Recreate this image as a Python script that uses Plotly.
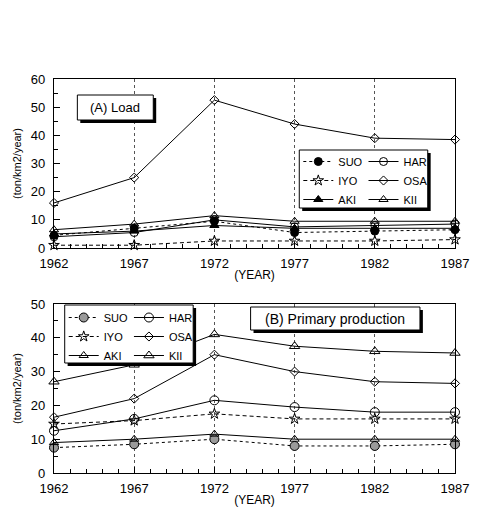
import plotly.graph_objects as go
from plotly.subplots import make_subplots

years = [1962, 1967, 1972, 1977, 1982, 1987]

# (A) Load, ton/km2/year
load_suo = [4.5, 7.0, 9.5, 5.5, 6.0, 6.5]
load_har = [4.0, 5.5, 10.0, 7.5, 8.0, 8.5]
load_iyo = [1.0, 1.0, 2.5, 2.5, 2.5, 3.0]
load_osa = [16.0, 25.0, 52.5, 44.0, 39.0, 38.5]
load_aki = [5.0, 6.0, 8.0, 7.0, 7.0, 7.0]
load_kii = [6.5, 8.5, 11.5, 9.5, 9.5, 9.5]

# (B) Primary production, ton/km2/year
pp_suo = [7.5, 8.5, 10.0, 8.0, 8.0, 8.5]
pp_har = [12.5, 16.0, 21.5, 19.5, 18.0, 18.0]
pp_iyo = [14.5, 15.5, 17.5, 16.0, 16.0, 16.0]
pp_osa = [16.5, 22.0, 35.0, 30.0, 27.0, 26.5]
pp_aki = [9.0, 10.0, 11.5, 10.0, 10.0, 10.0]
pp_kii = [27.0, 32.0, 41.0, 37.5, 36.0, 35.5]

FONT = "Liberation Sans, Arial, sans-serif"

# plot-area geometry in page pixels
L, R, T, B = 54, 15, 79, 44
W, H = 481, 517
PW, PH = W - L - R, H - T - B

fig = make_subplots(rows=2, cols=1, vertical_spacing=0.142)

DASH = "4px,3px"


def add(row, name, y, symbol, dash, size, legend, fill="black"):
    fig.add_trace(go.Scatter(
        x=years, y=y, name=name, mode="lines+markers",
        line=dict(color="black", width=1, dash=dash),
        marker=dict(symbol=symbol, size=size, color=fill,
                    line=dict(color="black", width=1)),
        cliponaxis=False, legend=legend,
    ), row=row, col=1)


# Panel A: left legend column SUO/IYO/AKI, right column HAR/OSA/KII
add(1, "SUO", load_suo, "circle", "dot", 8, "legend")
add(1, "IYO", load_iyo, "star-open", DASH, 8, "legend")
add(1, "AKI", load_aki, "triangle-up", "solid", 8, "legend")
add(1, "HAR", load_har, "circle-open", "solid", 8, "legend2")
add(1, "OSA", load_osa, "diamond-open", "solid", 7, "legend2")
add(1, "KII", load_kii, "triangle-up-open", "solid", 8, "legend2")

# Panel B
add(2, "SUO", pp_suo, "circle", "dot", 9, "legend3", fill="#9a9a9a")
add(2, "IYO", pp_iyo, "star-open", DASH, 8, "legend3")
add(2, "AKI", pp_aki, "triangle-up-open", "solid", 8, "legend3")
add(2, "HAR", pp_har, "circle-open", "solid", 9, "legend4")
add(2, "OSA", pp_osa, "diamond-open", "solid", 7, "legend4")
add(2, "KII", pp_kii, "triangle-up-open", "solid", 9, "legend4")

xaxis_common = dict(
    range=[1962, 1987], tickvals=years, ticks="inside", ticklen=6,
    tickcolor="black", showline=True, linecolor="black", linewidth=1.2,
    mirror=True, showgrid=True, gridcolor="#555", griddash="dot", gridwidth=1,
    minor=dict(dtick=1, tick0=1962, ticks="inside", ticklen=4,
               tickcolor="black", showgrid=False),
    tickfont=dict(size=13, family=FONT, color="black"),
    ticklabelstandoff=3,
    title=dict(text="(YEAR)", font=dict(size=12, family=FONT, color="black"),
               standoff=0),
    zeroline=False,
)
yaxis_common = dict(
    ticks="inside", ticklen=6, tickcolor="black", showline=True,
    linecolor="black", linewidth=1.2, mirror=True, showgrid=False,
    zeroline=False, dtick=10,
    minor=dict(dtick=5, ticks="inside", ticklen=4, tickcolor="black"),
    tickfont=dict(size=13, family=FONT, color="black"),
    ticklabelstandoff=5,
    title=dict(text="(ton/km2/year)",
               font=dict(size=11, family=FONT, color="black"), standoff=6),
)

fig.update_xaxes(**xaxis_common)
fig.update_yaxes(**yaxis_common)
fig.update_yaxes(range=[0, 60], row=1, col=1)
fig.update_yaxes(range=[0, 50], row=2, col=1)


def px(x, y):
    """page pixel -> paper coordinates"""
    return (x - L) / PW, 1 - (y - T) / PH


legend_style = dict(
    orientation="v", bgcolor="rgba(0,0,0,0)", borderwidth=0,
    itemwidth=30, font=dict(size=11, family=FONT, color="black"),
    xanchor="left", yanchor="top", tracegroupgap=0,
)

lA1 = px(305, 147)
lA2 = px(372, 147)
lB1 = px(64, 303)
lB2 = px(131, 303)

fig.update_layout(
    width=W, height=H,
    margin=dict(l=L, r=R, t=T, b=B),
    paper_bgcolor="white", plot_bgcolor="white",
    font=dict(family=FONT, color="black"),
    legend=dict(x=lA1[0], y=lA1[1], **legend_style),
    legend2=dict(x=lA2[0], y=lA2[1], **legend_style),
    legend3=dict(x=lB1[0], y=lB1[1], **legend_style),
    legend4=dict(x=lB2[0], y=lB2[1], **legend_style),
)


def boxed(x0, y0, x1, y1):
    # white box with black frame and a small drop shadow, in page pixels
    a0, b1 = px(x0 + 3, y0 + 3)
    a1, b0 = px(x1 + 3, y1 + 3)
    fig.add_shape(type="rect", xref="paper", yref="paper",
                  x0=a0, x1=a1, y0=b0, y1=b1,
                  fillcolor="black", line=dict(width=0), layer="above")
    a0, b1 = px(x0, y0)
    a1, b0 = px(x1, y1)
    fig.add_shape(type="rect", xref="paper", yref="paper",
                  x0=a0, x1=a1, y0=b0, y1=b1,
                  fillcolor="white", line=dict(color="black", width=1),
                  layer="above")


boxed(78, 95, 156, 120)
boxed(256, 307, 430, 330)
boxed(306, 150, 438, 208)
boxed(65, 305, 197, 363)

ta = px(117, 107.5)
tb = px(343, 318.5)
fig.add_annotation(text="(A) Load", xref="paper", yref="paper",
                   x=ta[0], y=ta[1], xanchor="center", yanchor="middle",
                   showarrow=False, font=dict(size=13, family=FONT))
fig.add_annotation(text="(B) Primary production", xref="paper", yref="paper",
                   x=tb[0], y=tb[1], xanchor="center", yanchor="middle",
                   showarrow=False, font=dict(size=14, family=FONT))

fig.write_html("out.html")
